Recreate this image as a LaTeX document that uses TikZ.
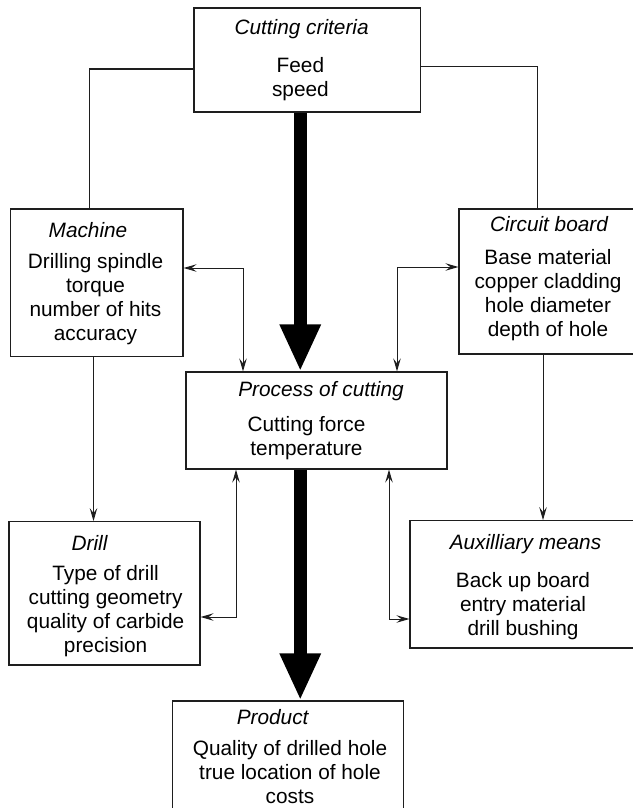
\documentclass[tikz,border=0pt]{standalone}
\usepackage{fontspec}
\setmainfont{Liberation Sans}
\usepackage{tikz}
\usetikzlibrary{
  arrows.meta,
  calc
}
\usepackage{xcolor}
\definecolor{lineclr}{RGB}{30, 30, 30}
\tikzset{
  % Boxes
  box/.style       = {draw=lineclr, line width=1.2pt, inner sep=0pt},
  % Texts
  ttl/.style       = {font=\fontsize{20.8}{24}\selectfont\itshape, inner sep=0pt},
  txt/.style       = {font=\fontsize{20.8}{24}\selectfont, align=center, inner sep=0pt},
  % Connectors
  link/.style      = {draw=lineclr, line width=1pt},
  linkarr/.style   = {link, -{Stealth[length=13pt, width=7.5pt, inset=5pt]}},
  linkboth/.style  = {link, {Stealth[length=13pt, width=7.5pt, inset=5pt]}-{Stealth[length=13pt, width=7.5pt, inset=5pt]}},
  bigarrow/.style  = {draw=black, line width=13.5pt, -{Triangle[length=47pt, width=38pt]}},
}
\begin{document}
\begin{tikzpicture}[x=1pt, y=-1pt]
  \useasboundingbox (0,0) rectangle (632,808);
  % Boxes
  \node[box, minimum width=226.5pt, minimum height=104pt]   (crit)  at (307.25, 60)    {};
  \node[box, minimum width=172.5pt, minimum height=147.7pt] (mach)  at (96.75, 282.85) {};
  \node[box, minimum width=175pt,   minimum height=145pt]   (board) at (546.5, 281.5)  {};
  \node[box, minimum width=261pt,   minimum height=97pt]    (proc)  at (316.5, 420.5)  {};
  \node[box, minimum width=191pt,   minimum height=143.3pt] (drill) at (104.5, 593.35) {};
  \node[box, minimum width=224pt,   minimum height=127.3pt] (aux)   at (522, 584.35)   {};
  \node[box, minimum width=231pt,   minimum height=111pt]   (prod)  at (288.1, 756.5)  {};
  % Titles
  \node[ttl] (critT)  at (301.6, 29)   {Cutting criteria};
  \node[ttl] (machT)  at (88, 230)     {Machine};
  \node[ttl] (boardT) at (549, 224)    {Circuit board};
  \node[ttl] (procT)  at (321, 391)    {Process of cutting};
  \node[ttl] (drillT) at (89.5, 543)   {Drill};
  \node[ttl] (auxT)   at (525.5, 544)  {Auxilliary means};
  \node[ttl] (prodT)  at (272.6, 716.7) {Product};
  % Contents
  \node[txt] (critB)  at (300.4, 79)   {Feed\\speed};
  \node[txt] (machB)  at (95.5, 299)   {Drilling spindle\\torque\\number of hits\\accuracy};
  \node[txt] (boardB) at (548, 295.5)  {Base material\\copper cladding\\hole diameter\\depth of hole};
  \node[txt] (procB)  at (306.5, 438)  {Cutting force\\temperature};
  \node[txt] (drillB) at (105.6, 611.5) {Type of drill\\cutting geometry\\quality of carbide\\precision};
  \node[txt] (auxB)   at (523, 606.5)  {Back up board\\entry material\\drill bushing};
  \node[txt] (prodB)  at (290, 771.8)  {Quality of drilled hole\\true location of hole\\costs};
  % Main flow
  \coordinate (spine) at (300.25, 0);
  \draw[bigarrow] (spine |- crit.south) -- (spine |- proc.north);
  \draw[bigarrow] (spine |- proc.south) -- (spine |- prod.north);
  % Side links
  \draw[link] ([yshift=-9pt]crit.west) -| ([xshift=-7.75pt]mach.north);
  \draw[link] ([yshift=-7pt]crit.east) -| ([xshift=-9pt]board.north);
  \draw[linkboth] ([yshift=14.85pt]mach.east) -| ([xshift=-73.5pt]proc.north);
  \draw[linkboth] ([yshift=14.5pt]board.west) -| ([xshift=80.5pt]proc.north);
  \draw[linkarr] ([xshift=-3.25pt]mach.south) -- ([xshift=-3.25pt]mach.south |- drill.north);
  \draw[linkarr] ([xshift=-3.5pt]board.south) -- ([xshift=-3.5pt]board.south |- aux.north);
  \draw[linkboth] ([xshift=-80.5pt]proc.south) |- ([yshift=-23.65pt]drill.east);
  \draw[linkboth] ([xshift=72.5pt]proc.south) |- ([yshift=-34.65pt]aux.west);
\end{tikzpicture}
\end{document}
